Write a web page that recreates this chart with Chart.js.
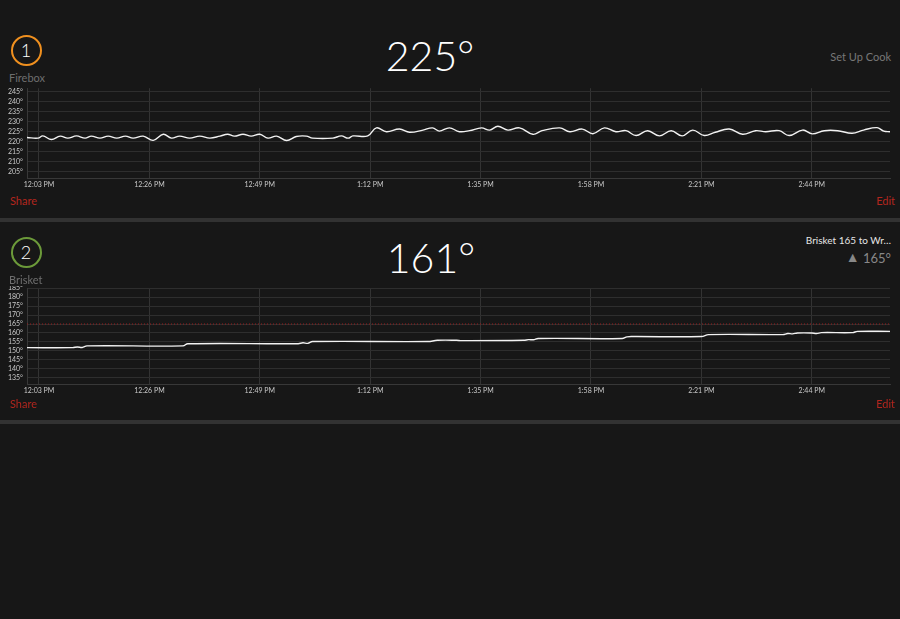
<!DOCTYPE html>
<html>
<head>
<meta charset="utf-8">
<script src="https://cdn.jsdelivr.net/npm/chart.js@4.4.1/dist/chart.umd.min.js"></script>
<style>
  body { margin: 0; background: #171717; width: 900px; height: 619px; overflow: hidden; position: relative;
         font-family: Lato, "Open Sans", sans-serif; }
  .abs { position: absolute; }
  .ring { width: 27px; height: 27px; border-radius: 50%; color: #fff; font-size: 18px; font-weight: 300;
          text-align: center; line-height: 27px; }
  .name { font-size: 11px; color: #6e6e6e; }
  .big { width: 200px; text-align: center; font-size: 41px; font-weight: 300; color: #fff; line-height: 1; }
  .link { font-size: 11px; color: #b3261e; font-family: "Liberation Sans Narrow", Lato, sans-serif; }
  .sep { left: 0; width: 900px; height: 4px; background: #323232; }
  .plot { left: 0; width: 900px; }
</style>
</head>
<body>

<!-- probe 1 -->
<div class="abs ring" style="left:10.5px;top:34.5px;border:2.5px solid #f0901f;">1</div>
<div class="abs name" style="left:9px;top:71px;">Firebox</div>
<div class="abs big" style="left:330px;top:35px;">225°</div>
<div class="abs" style="right:9px;top:50px;font-size:11px;color:#777;">Set Up Cook</div>
<div class="abs plot" style="top:80px;height:112px;"><canvas id="fireboxChart"></canvas></div>
<div class="abs link" style="left:10px;top:194px;">Share</div>
<div class="abs link" style="right:5px;top:194px;">Edit</div>
<div class="abs sep" style="top:218px;"></div>

<!-- probe 2 -->
<div class="abs ring" style="left:10.5px;top:237px;border:2.5px solid #6c9a3a;">2</div>
<div class="abs big" style="left:331px;top:237px;">161°</div>
<div class="abs" style="right:9px;top:234px;font-size:10px;color:#e6e6e6;">Brisket 165 to Wr…</div>
<div class="abs" style="right:9px;top:249px;font-size:13px;color:#888;"><span style="font-size:14px;position:relative;top:-1px;">▲</span> 165°</div>
<div class="abs plot" style="top:280px;height:118px;"><canvas id="brisketChart"></canvas></div>
<div class="abs" style="left:0;top:280px;width:900px;height:5.5px;background:#171717;"></div>
<div class="abs name" style="left:9px;top:273px;">Brisket</div>
<div class="abs link" style="left:10px;top:397px;">Share</div>
<div class="abs link" style="right:5px;top:397px;">Edit</div>
<div class="abs sep" style="top:420px;"></div>

<script>
// minutes after 12:00 PM
const tickMinutes = [3, 26, 49, 72, 95, 118, 141, 164];
const tickLabels = ["12:03 PM", "12:26 PM", "12:49 PM", "1:12 PM", "1:35 PM", "1:58 PM", "2:21 PM", "2:44 PM"];

const fireboxTicks = [205, 210, 215, 220, 225, 230, 235, 240, 245];
const brisketTicks = [135, 140, 145, 150, 155, 160, 165, 170, 175, 180, 185];

const fireboxMinutes = [0.5, 2.8, 3.8, 5.6, 7.4, 9, 10.8, 12.6, 13.9, 15.7, 17.4, 19.2, 21, 22.6, 24.7, 26.8,
  28.9, 30.6, 32.3, 34.4, 36.5, 38.6, 40.7, 42.3, 43.7, 45.5, 47.2, 49, 50.7, 52.5, 54.6, 56.6, 58.7, 60,
  64.2, 66, 67.4, 68.4, 71.5, 73.3, 75.4, 78.1, 80.2, 83, 85, 86.4, 88.5, 90.6, 92.7, 95.2, 96.9, 98.6,
  100.7, 103.1, 105.9, 107.8, 111.5, 113.6, 116.2, 118.4, 120.8, 123.2, 125.3, 127.4, 129.8, 132.3, 134.7,
  137, 139.2, 141.6, 143.9, 146.8, 149.6, 152.3, 154.4, 157.2, 159.3, 162.1, 164.1, 166.6, 169.4, 172.4,
  174.8, 177.6, 179, 180.3];
const fireboxTemps = [222.1, 221.8, 222.9, 221.1, 222.8, 221.8, 222.9, 221.8, 222.8, 221.8, 222.8, 221.8,
  222.8, 221.8, 222.8, 220.7, 223.7, 221.8, 222.8, 221.8, 222.8, 221.8, 222.8, 223.7, 222.8, 223.7, 222.8,
  223.7, 221.8, 222.8, 220.6, 222.6, 222.8, 221.8, 221.8, 222.9, 221.8, 222.9, 222.9, 226.9, 225.0, 226.3,
  224.7, 225.8, 226.9, 225.3, 226.9, 225.0, 225.5, 226.9, 225.8, 227.7, 225.8, 226.9, 223.7, 225.5, 226.9,
  225.0, 226.3, 224.0, 226.9, 225.0, 225.5, 223.1, 225.5, 222.9, 225.5, 222.9, 225.8, 223.1, 224.7, 226.3,
  223.7, 225.5, 225.0, 225.5, 223.1, 225.8, 223.9, 225.5, 225.5, 224.2, 225.8, 227.0, 225.3, 225.0];

const brisketMinutes = [0.5, 10, 11, 12, 13, 33, 34, 57, 58, 59, 60, 84, 86, 90, 91, 104, 105, 106, 107,
  124.5, 125.5, 126.5, 141, 142.5, 158, 159, 160, 161, 164, 165, 166, 172.5, 173.5, 180.3];
const brisketTemps = [151.8, 151.8, 152.2, 151.9, 152.8, 152.8, 154.0, 154.0, 154.5, 154.2, 155.2, 155.2,
  155.9, 155.9, 155.7, 155.9, 156.3, 156.2, 156.9, 156.9, 157.8, 158.0, 158.0, 159.1, 159.1, 159.7, 159.5,
  160.0, 160.0, 159.7, 160.2, 160.2, 160.9, 160.9];

const brisketTarget = 165;

function toPoints(xs, ys) {
  return xs.map((x, i) => ({ x: x, y: ys[i] }));
}

function makeChart(id, series, yMin, yMax, yTicks, padTop, extra) {
  const ctx = document.getElementById(id);
  return new Chart(ctx, {
    type: 'line',
    data: {
      datasets: [{
        data: series,
        borderColor: "#f2f2f2",
        borderWidth: 1.4,
        pointRadius: 0,
        tension: 0.4
      }].concat(extra || [])
    },
    options: {
      responsive: true,
      maintainAspectRatio: false,
      animation: false,
      layout: { padding: { top: padTop, right: 10, left: 0, bottom: 0 } },
      plugins: { legend: { display: false }, tooltip: { enabled: false } },
      scales: {
        x: {
          type: 'linear',
          min: 0.5,
          max: 180.3,
          afterBuildTicks: (s) => { s.ticks = tickMinutes.map(v => ({ value: v })); },
          afterFit: (s) => { s.height = 14; },
          ticks: {
            padding: 3,
            color: "#c8c8c8",
            font: { size: 7, family: "Lato" },
            maxRotation: 0,
            autoSkip: false,
            callback: (v) => tickLabels[tickMinutes.indexOf(v)]
          },
          grid: { color: "#333333", drawTicks: false },
          border: { color: "#383838" }
        },
        y: {
          min: yMin,
          max: yMax,
          afterBuildTicks: (s) => { s.ticks = yTicks.map(v => ({ value: v })); },
          afterFit: (s) => { s.width = 27; },
          ticks: {
            padding: 4,
            color: "#c8c8c8",
            font: { size: 7, family: "Lato" },
            autoSkip: false,
            callback: (v) => v + "°"
          },
          grid: { color: "#2e2e2e", drawTicks: false },
          border: { color: "#383838" }
        }
      }
    }
  });
}

makeChart("fireboxChart", toPoints(fireboxMinutes, fireboxTemps), 202, 246.6, fireboxTicks, 5.7);

makeChart("brisketChart", toPoints(brisketMinutes, brisketTemps), 131.5, 185, brisketTicks, 7, [{
  data: [{ x: 0.5, y: brisketTarget }, { x: 180.3, y: brisketTarget }],
  borderColor: "#9c1f1f",
  borderWidth: 1,
  borderDash: [1, 2],
  pointRadius: 0
}]);
</script>
</body>
</html>
